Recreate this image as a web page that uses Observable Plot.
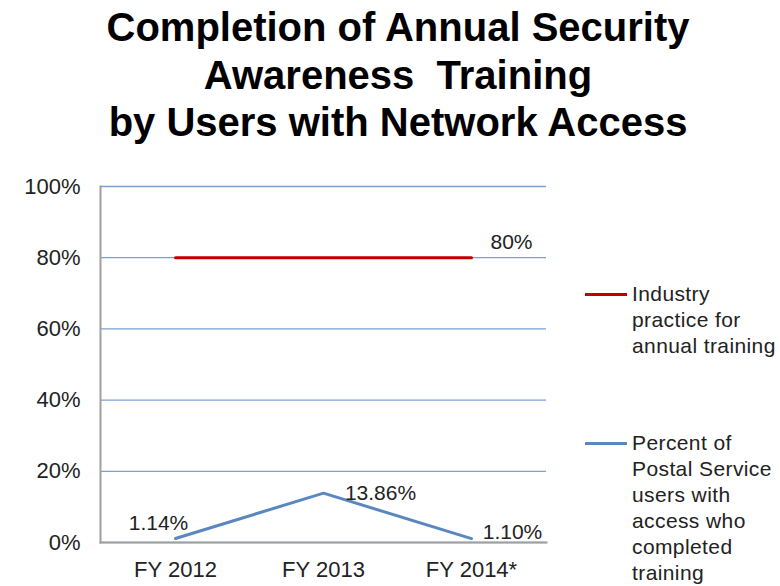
<!DOCTYPE html>
<html>
<head>
<meta charset="utf-8">
<script src="https://cdn.jsdelivr.net/npm/d3@7"></script>
<script src="https://cdn.jsdelivr.net/npm/@observablehq/plot@0.6"></script>
<style>
  html, body { margin: 0; padding: 0; background: #fff; }
  body { width: 780px; height: 586px; position: relative; overflow: hidden; font-family: "Liberation Sans", Arial, sans-serif; }
  #title { position: absolute; left: 0; top: 4px; width: 796px; text-align: center; font-weight: bold; font-size: 40px; line-height: 47.5px; color: #000; }
  #chart { position: absolute; left: 0; top: 150px; }
  .leg { position: absolute; font-size: 21px; line-height: 26px; color: #222; letter-spacing: 0.4px; }
  .leg .sw { position: absolute; left: -47px; top: 12px; width: 42px; height: 3px; }
</style>
</head>
<body>
<div id="title">Completion of Annual Security<br>Awareness&nbsp; Training<br>by Users with Network Access</div>
<div id="chart"></div>
<div class="leg" style="left:632px; top:281px;"><div class="sw" style="background:#c00000"></div>Industry<br>practice for<br>annual training</div>
<div class="leg" style="left:632px; top:430px;"><div class="sw" style="background:#5b87c0"></div>Percent of<br>Postal Service<br>users with<br>access who<br>completed<br>training</div>
<script>
const categories = ["FY 2012", "FY 2013", "FY 2014*"];
const industryValues = [80, 80, 80];
const postalValues = [1.14, 13.86, 1.10];
const postalLabels = ["1.14%", "13.86%", "1.10%"];
const yTicks = [0, 20, 40, 60, 80, 100];

const industry = categories.map((c, i) => ({cat: c, v: industryValues[i]}));
const postal = categories.map((c, i) => ({cat: c, v: postalValues[i], label: postalLabels[i]}));
const labelDx = [-17, 57, 41];
const labelDy = [-15, 0, -6];

const chart = Plot.plot({
  width: 780,
  height: 436,
  marginLeft: 100,
  marginRight: 234,
  marginTop: 36,
  marginBottom: 44,
  style: {fontFamily: "Liberation Sans, Arial, sans-serif", fontSize: "22px", color: "#222", background: "transparent"},
  x: {type: "point", domain: categories, padding: 0.5, label: null, tickSize: 0, tickPadding: 19},
  y: {domain: [0, 100], ticks: yTicks, label: null, tickSize: 0, tickPadding: 20, tickFormat: d => d + "%"},
  marks: [
    Plot.gridY(yTicks, {stroke: "#7ba0d6", strokeOpacity: 1, strokeWidth: 1.3}),
    Plot.frame({anchor: "left", stroke: "#a0a0a0", strokeWidth: 2}),
    Plot.frame({anchor: "bottom", stroke: "#a0a0a0", strokeWidth: 2}),
    Plot.line(industry, {x: "cat", y: "v", stroke: "#c00000", strokeWidth: 3}),
    Plot.line(postal, {x: "cat", y: "v", stroke: "#5b87c0", strokeWidth: 3}),
    Plot.text(industry.slice(-1), {x: "cat", y: "v", text: d => d.v + "%", dx: 40, dy: -15, fill: "#222", fontSize: 21}),
    ...postal.map((d, i) => Plot.text([d], {x: "cat", y: "v", text: "label", dx: labelDx[i], dy: labelDy[i], fill: "#222", fontSize: 21}))
  ]
});
document.getElementById("chart").appendChild(chart);
</script>
</body>
</html>
